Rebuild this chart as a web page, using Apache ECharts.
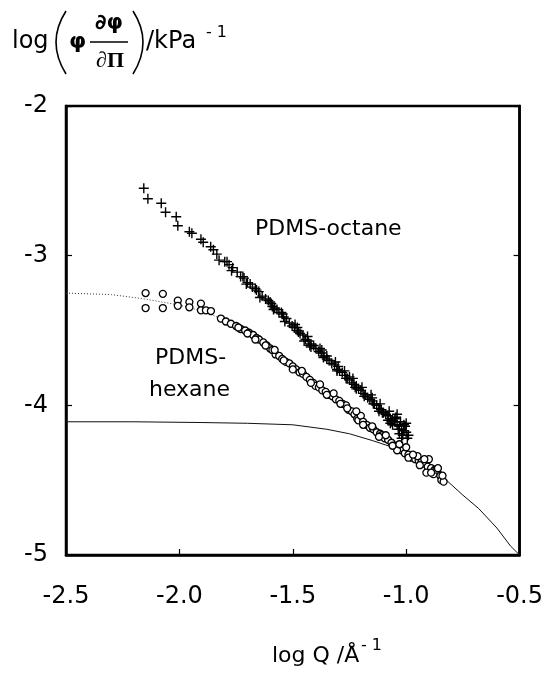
<!DOCTYPE html>
<html><head><meta charset="utf-8">
<script src="https://cdn.jsdelivr.net/npm/echarts@6/dist/echarts.min.js"></script>
<style>html,body{margin:0;padding:0;background:#fff}#c{width:546px;height:675px}</style>
</head><body><div id="c"></div>
<script>
// ---- data (log Q / Å^-1 , log(phi dphi/dPi) / kPa^-1) ----
const xTickLabels = ['-2.5', '-2.0', '-1.5', '-1.0', '-0.5'];
const yTickLabels = ['-5', '-4', '-3', '-2'];

const octane = [
[-2.157,-2.55],[-2.139,-2.62],[-2.080,-2.65],[-2.061,-2.71],[-2.014,-2.74],[-2.007,-2.80],
[-1.956,-2.84],[-1.945,-2.85],[-1.905,-2.89],[-1.895,-2.91],[-1.862,-2.94],[-1.850,-2.96],
[-1.835,-2.99],[-1.825,-3.03],[-1.800,-3.04],[-1.781,-3.06],[-1.765,-3.08],[-1.745,-3.11],
[-1.730,-3.14],[-1.715,-3.15],[-1.700,-3.18],[-1.688,-3.19],[-1.678,-3.21],[-1.665,-3.22],
[-1.650,-3.24],[-1.635,-3.27],[-1.620,-3.29],[-1.608,-3.30],[-1.595,-3.32],[-1.580,-3.35],
[-1.570,-3.36],[-1.561,-3.38],[-1.550,-3.38],[-1.540,-3.41],[-1.528,-3.42],[-1.515,-3.45],
[-1.503,-3.47],[-1.492,-3.48],[-1.480,-3.50],[-1.468,-3.52],[-1.455,-3.53],[-1.444,-3.56],
[-1.432,-3.57],[-1.420,-3.59],[-1.408,-3.60],[-1.398,-3.62],[-1.386,-3.64],[-1.375,-3.65],
[-1.362,-3.67],[-1.350,-3.69],[-1.340,-3.70],[-1.328,-3.72],[-1.316,-3.73],[-1.305,-3.76],
[-1.294,-3.77],[-1.282,-3.78],[-1.270,-3.80],[-1.260,-3.82],[-1.250,-3.83],[-1.240,-3.85],
[-1.230,-3.86],[-1.220,-3.87],[-1.210,-3.89],[-1.200,-3.90],[-1.190,-3.92],[-1.180,-3.93],
[-1.170,-3.95],[-1.160,-3.96],[-1.150,-3.97],[-1.140,-3.99],[-1.130,-4.00],[-1.120,-4.02],
[-1.110,-4.03],[-1.100,-4.05],[-1.090,-4.06],[-1.080,-4.07],[-1.070,-4.09],[-1.060,-4.10],
[-1.050,-4.11],[-1.040,-4.13],[-1.030,-4.14],[-1.020,-4.16],[-1.010,-4.17],[-1.000,-4.18],
[-1.450,-3.57],[-1.380,-3.62],[-1.300,-3.74],[-1.220,-3.89],[-1.150,-3.95],[-1.120,-4.04],
[-1.080,-4.10],[-1.050,-4.09],[-1.030,-4.19],[-1.010,-4.13],[-1.060,-4.13],[-1.250,-3.81],
[-1.350,-3.67],[-1.420,-3.61],[-1.480,-3.48],[-1.590,-3.34],[-0.990,-4.20],
[-1.790,-3.04],[-1.770,-3.10],[-1.720,-3.14],[-1.705,-3.19],[-1.660,-3.23],[-1.645,-3.28],
[-1.600,-3.31],[-1.585,-3.36],[-1.545,-3.39],[-1.535,-3.44],[-1.490,-3.46],[-1.475,-3.51],
[-1.435,-3.54],[-1.425,-3.60],[-1.372,-3.63],[-1.365,-3.68],[-1.312,-3.71],[-1.305,-3.77],
[-1.272,-3.77],[-1.265,-3.82],[-1.235,-3.82],[-1.225,-3.88],[-1.195,-3.88],[-1.185,-3.94],
[-1.155,-3.93],[-1.145,-3.99],[-1.115,-3.99],[-1.105,-4.05],[-1.075,-4.04],[-1.065,-4.11],
[-1.070,-4.12],[-1.045,-4.08],[-1.035,-4.16],[-1.040,-4.06],[-1.025,-4.11],[-1.015,-4.20],
[-1.020,-4.22],[-1.005,-4.14],[-0.995,-4.22],[-1.000,-4.12]
];

const hexane = [
[-2.149,-3.25],[-2.149,-3.35],[-2.073,-3.255],[-2.073,-3.35],[-2.007,-3.30],[-2.007,-3.335],
[-1.956,-3.31],[-1.956,-3.345],[-1.905,-3.32],[-1.905,-3.365],[-1.883,-3.365],[-1.861,-3.37],
[-1.817,-3.42],[-1.795,-3.44],[-1.773,-3.455],[-1.750,-3.47],[-1.730,-3.49],[-1.710,-3.50],
[-1.693,-3.515],[-1.675,-3.53],[-1.660,-3.55],[-1.649,-3.56],[-1.630,-3.58],[-1.615,-3.60],
[-1.600,-3.62],[-1.590,-3.63],[-1.576,-3.66],[-1.560,-3.67],[-1.547,-3.69],[-1.530,-3.71],
[-1.515,-3.72],[-1.500,-3.74],[-1.485,-3.76],[-1.470,-3.78],[-1.455,-3.79],[-1.440,-3.81],
[-1.425,-3.83],[-1.410,-3.85],[-1.400,-3.87],[-1.385,-3.88],[-1.370,-3.90],[-1.355,-3.91],
[-1.340,-3.93],[-1.325,-3.94],[-1.310,-3.96],[-1.295,-3.97],[-1.280,-3.99],[-1.265,-4.00],
[-1.254,-4.03],[-1.240,-4.04],[-1.228,-4.06],[-1.216,-4.09],[-1.211,-4.10],[-1.200,-4.07],
[-1.190,-4.11],[-1.175,-4.13],[-1.160,-4.15],[-1.145,-4.16],[-1.130,-4.18],[-1.115,-4.19],
[-1.108,-4.20],[-1.095,-4.22],[-1.080,-4.23],[-1.065,-4.25],[-1.050,-4.27],[-1.035,-4.28],
[-1.020,-4.30],[-1.006,-4.32],[-0.990,-4.33],[-0.975,-4.35],[-0.960,-4.36],[-0.945,-4.37],
[-0.933,-4.38],[-0.920,-4.39],[-0.905,-4.41],[-0.890,-4.42],[-0.874,-4.43],[-0.862,-4.45],
[-0.850,-4.47],[-0.845,-4.50],[-0.835,-4.51],[-0.880,-4.46],[-0.900,-4.36],[-0.950,-4.34],
[-1.000,-4.28],[-1.040,-4.30],[-0.911,-4.45],[-0.867,-4.43],
[-1.740,-3.48],[-1.700,-3.52],[-1.665,-3.56],[-1.620,-3.60],[-1.580,-3.63],[-1.540,-3.70],
[-1.500,-3.76],[-1.460,-3.77],[-1.420,-3.85],[-1.380,-3.86],[-1.350,-3.93],[-1.320,-3.92],
[-1.290,-3.99],[-1.260,-4.02],[-1.220,-4.04],[-1.190,-4.13],[-1.150,-4.14],[-1.120,-4.21],
[-1.090,-4.20],[-1.060,-4.27],[-1.030,-4.26],[-0.990,-4.35],[-0.970,-4.33],[-0.940,-4.40],
[-0.920,-4.36],[-0.890,-4.45],[-0.860,-4.42],[-0.840,-4.47]
];

const hexaneFitDotted = [
[-2.5,-3.25],[-2.3,-3.26],[-2.15,-3.29],[-2.0,-3.33],[-1.9,-3.37],[-1.8,-3.43]
];

const solidCurve = [
[-2.5,-4.11],[-2.2,-4.11],[-1.9,-4.115],[-1.7,-4.12],[-1.5,-4.13],[-1.35,-4.16],
[-1.25,-4.19],[-1.15,-4.235],[-1.05,-4.285],[-1.0,-4.31],[-0.9,-4.42],[-0.83,-4.49],
[-0.75,-4.6],[-0.68,-4.69],[-0.6,-4.82],[-0.54,-4.94],[-0.5,-5.0]
];

const FONT = '"DejaVu Sans", sans-serif';
const plusPath = 'path://M4.3,0h1.4v4.3h4.3v1.4h-4.3v4.3h-1.4v-4.3h-4.3v-1.4h4.3z';

const chart = echarts.init(document.getElementById('c'), null, {renderer: 'canvas'});
const yFmt = v => yTickLabels[Math.round(v + 5)] || '';
const xFmt = v => xTickLabels[Math.round((v + 2.5) / 0.5)] || '';

chart.setOption({
  animation: false,
  backgroundColor: '#fff',
  grid: {left: 66, right: 24, top: 106, bottom: 120, show: true, borderColor: '#000', borderWidth: 2.5},
  xAxis: [{
    type: 'value', min: -2.5, max: -0.5, interval: 0.5,
    axisLine: {show: true, onZero: false, lineStyle: {color: '#000', width: 2.5}},
    axisTick: {show: true, inside: true, length: 6, lineStyle: {color: '#000', width: 1.2}},
    axisLabel: {formatter: xFmt, color: '#000', fontFamily: FONT, fontSize: 24, margin: 30},
    splitLine: {show: false}
  }],
  yAxis: [{
    type: 'value', min: -5, max: -2, interval: 1,
    axisLine: {show: true, onZero: false, lineStyle: {color: '#000', width: 2.5}},
    axisTick: {show: true, inside: true, length: 6, lineStyle: {color: '#000', width: 1.2}},
    axisLabel: {formatter: yFmt, color: '#000', fontFamily: FONT, fontSize: 24, margin: 18},
    splitLine: {show: false}
  }, {
    type: 'value', position: 'right', min: -5, max: -2, interval: 1,
    axisLine: {show: true, onZero: false, lineStyle: {color: '#000', width: 2.5}},
    axisTick: {show: true, inside: true, length: 6, lineStyle: {color: '#000', width: 1.2}},
    axisLabel: {show: false}, splitLine: {show: false}
  }],
  series: [
    {type: 'line', data: solidCurve, symbol: 'none', lineStyle: {color: '#111', width: 1}, z: 2},
    {type: 'line', data: hexaneFitDotted, symbol: 'none', lineStyle: {color: '#333', width: 1, type: [1, 2]}, z: 2},
    {type: 'scatter', data: hexane, symbol: 'circle', symbolSize: 7,
      itemStyle: {color: '#fff', borderColor: '#000', borderWidth: 1.3, opacity: 1}, z: 3},
    {type: 'scatter', data: octane, symbol: plusPath, symbolSize: 10,
      itemStyle: {color: '#000', opacity: 1}, z: 4}
  ],
  graphic: [
    {type: 'text', style: {x: 12, y: 42, text: 'log', font: '24px ' + FONT, fill: '#000', textVerticalAlign: 'middle'}},
    {type: 'bezierCurve', shape: {x1: 66, y1: 11, cpx1: 46, cpy1: 42, x2: 66, y2: 74}, style: {stroke: '#000', lineWidth: 1.6, fill: null}},
    {type: 'text', style: {x: 69, y: 42, text: 'φ', font: 'bold 22px ' + FONT, fill: '#000', textVerticalAlign: 'middle'}},
    {type: 'text', style: {x: 109, y: 24, text: '∂φ', font: 'bold 21px ' + FONT, fill: '#000', textAlign: 'center', textVerticalAlign: 'middle'}},
    {type: 'line', shape: {x1: 90, y1: 42, x2: 128, y2: 42}, style: {stroke: '#000', lineWidth: 1.5}},
    {type: 'text', style: {x: 110, y: 61, text: '∂Π', font: 'bold 22px "Liberation Serif", serif', fill: '#000', textAlign: 'center', textVerticalAlign: 'middle'}},
    {type: 'bezierCurve', shape: {x1: 133, y1: 11, cpx1: 153, cpy1: 42, x2: 133, y2: 74}, style: {stroke: '#000', lineWidth: 1.6, fill: null}},
    {type: 'text', style: {x: 146, y: 42, text: '/kPa', font: '24px ' + FONT, fill: '#000', textVerticalAlign: 'middle'}},
    {type: 'text', style: {x: 206, y: 33, text: '- 1', font: '16px ' + FONT, fill: '#000', textVerticalAlign: 'middle'}},
    {type: 'text', style: {x: 255, y: 229, text: 'PDMS-octane', font: '22px ' + FONT, fill: '#000', textVerticalAlign: 'middle'}},
    {type: 'text', style: {x: 155, y: 358, text: 'PDMS-', font: '22px ' + FONT, fill: '#000', textVerticalAlign: 'middle'}},
    {type: 'text', style: {x: 149, y: 390, text: 'hexane', font: '22px ' + FONT, fill: '#000', textVerticalAlign: 'middle'}},
    {type: 'text', style: {x: 272, y: 656, text: 'log Q /Å', font: '22px ' + FONT, fill: '#000', textVerticalAlign: 'middle'}},
    {type: 'text', style: {x: 361, y: 646, text: '- 1', font: '16px ' + FONT, fill: '#000', textVerticalAlign: 'middle'}}
  ]
});
</script></body></html>
